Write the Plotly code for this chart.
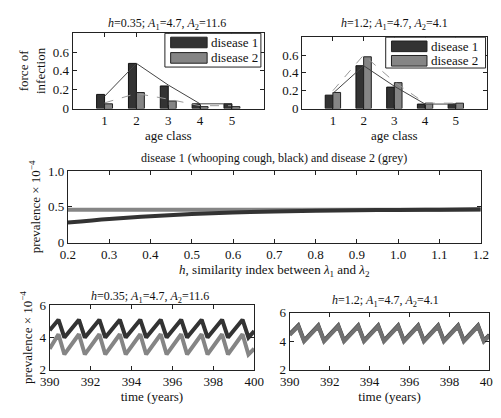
import plotly.graph_objects as go

W, H = 501, 418
FONT = "Liberation Serif, Times New Roman, serif"
DARK = "#333333"
GREY = "#858585"

# ---------------- data ----------------
age_class = [1, 2, 3, 4, 5]
# h = 0.35 panel
foi1_a = [0.15, 0.48, 0.24, 0.05, 0.05]
foi2_a = [0.05, 0.17, 0.08, 0.02, 0.02]
curve1_a = [0.13, 0.48, 0.25, 0.05, 0.05]
curve2_a = [0.06, 0.16, 0.10, 0.03, 0.03]
# h = 1.2 panel
foi1_b = [0.15, 0.48, 0.24, 0.05, 0.05]
foi2_b = [0.18, 0.58, 0.29, 0.06, 0.06]
curve1_b = [0.17, 0.48, 0.25, 0.05, 0.05]
curve2_b = [0.20, 0.60, 0.30, 0.06, 0.06]

h_vals = [0.2, 0.3, 0.4, 0.5, 0.6, 0.7, 0.8, 0.9, 1.0, 1.1, 1.2]
prev1_h = [0.28, 0.33, 0.37, 0.40, 0.42, 0.435, 0.445, 0.452, 0.457, 0.461, 0.465]
prev2_h = [0.46, 0.46, 0.46, 0.46, 0.46, 0.46, 0.46, 0.46, 0.46, 0.46, 0.46]

t_vals = [390.0, 390.43, 390.72, 391.43, 391.72, 392.43, 392.72, 393.43, 393.72,
          394.43, 394.72, 395.43, 395.72, 396.43, 396.72, 397.43, 397.72,
          398.43, 398.72, 399.43, 399.72, 400.0]
ts1_a = [4.45, 5.1, 4.0, 5.1, 4.0, 5.1, 4.0, 5.1, 4.0, 5.1, 4.0,
         5.1, 4.0, 5.1, 4.0, 5.1, 4.0, 5.1, 4.0, 5.1, 4.0, 4.4]
ts2_a = [3.3, 4.2, 2.95, 4.2, 2.95, 4.2, 2.95, 4.2, 2.95, 4.2, 2.95,
         4.2, 2.95, 4.2, 2.95, 4.2, 2.95, 4.2, 2.95, 4.2, 2.95, 3.3]
ts1_b = [4.5, 5.12, 4.05, 5.12, 4.05, 5.12, 4.05, 5.12, 4.05, 5.12, 4.05,
         5.12, 4.05, 5.12, 4.05, 5.12, 4.05, 5.12, 4.05, 5.12, 4.05, 4.45]
ts2_b = [4.45, 5.06, 4.0, 5.06, 4.0, 5.06, 4.0, 5.06, 4.0, 5.06, 4.0,
         5.06, 4.0, 5.06, 4.0, 5.06, 4.0, 5.06, 4.0, 5.06, 4.0, 4.4]

legend_labels = ["disease 1", "disease 2"]

# ---------------- layout helpers ----------------
def xd(a, b):
    return [a / W, b / W]

def yd(top, bottom):
    return [1 - bottom / H, 1 - top / H]

def px(x):
    return x / W

def py(y):
    return 1 - y / H

fig = go.Figure()

# top-left bars
fig.add_trace(go.Bar(x=age_class, y=foi1_a, marker=dict(color=DARK, line=dict(color="#111", width=1)),
                     xaxis="x", yaxis="y", showlegend=False))
fig.add_trace(go.Bar(x=age_class, y=foi2_a, marker=dict(color=GREY, line=dict(color="#222", width=1)),
                     xaxis="x", yaxis="y", showlegend=False))
fig.add_trace(go.Scatter(x=age_class, y=curve1_a, mode="lines", line=dict(color="#444", width=1),
                         xaxis="x", yaxis="y", showlegend=False))
fig.add_trace(go.Scatter(x=age_class, y=curve2_a, mode="lines", line=dict(color="#999", width=1, dash="dash"),
                         xaxis="x", yaxis="y", showlegend=False))
# top-right bars
fig.add_trace(go.Bar(x=age_class, y=foi1_b, marker=dict(color=DARK, line=dict(color="#111", width=1)),
                     xaxis="x2", yaxis="y2", showlegend=False))
fig.add_trace(go.Bar(x=age_class, y=foi2_b, marker=dict(color=GREY, line=dict(color="#222", width=1)),
                     xaxis="x2", yaxis="y2", showlegend=False))
fig.add_trace(go.Scatter(x=age_class, y=curve1_b, mode="lines", line=dict(color="#444", width=1),
                         xaxis="x2", yaxis="y2", showlegend=False))
fig.add_trace(go.Scatter(x=age_class, y=curve2_b, mode="lines", line=dict(color="#999", width=1, dash="dash"),
                         xaxis="x2", yaxis="y2", showlegend=False))
# middle
fig.add_trace(go.Scatter(x=h_vals, y=prev2_h, mode="lines", line=dict(color=GREY, width=4),
                         xaxis="x3", yaxis="y3", showlegend=False))
fig.add_trace(go.Scatter(x=h_vals, y=prev1_h, mode="lines", line=dict(color=DARK, width=4, shape="spline"),
                         xaxis="x3", yaxis="y3", showlegend=False))
# bottom-left
fig.add_trace(go.Scatter(x=t_vals, y=ts1_a, mode="lines", line=dict(color=DARK, width=4),
                         xaxis="x4", yaxis="y4", showlegend=False))
fig.add_trace(go.Scatter(x=t_vals, y=ts2_a, mode="lines", line=dict(color=GREY, width=4),
                         xaxis="x4", yaxis="y4", showlegend=False))
# bottom-right
fig.add_trace(go.Scatter(x=t_vals, y=ts1_b, mode="lines", line=dict(color="#3a3a3a", width=4),
                         xaxis="x5", yaxis="y5", showlegend=False))
fig.add_trace(go.Scatter(x=t_vals, y=ts2_b, mode="lines", line=dict(color="#707070", width=4),
                         xaxis="x5", yaxis="y5", showlegend=False))

axis_common = dict(showline=True, linecolor="#222", linewidth=1, mirror="allticks",
                   ticks="inside", ticklen=4, tickcolor="#222", showgrid=False, zeroline=False,
                   tickfont=dict(family=FONT, size=13, color="#111"))
title_font = dict(family=FONT, size=13, color="#111")

fig.update_layout(
    width=W, height=H, margin=dict(l=0, r=0, t=0, b=0),
    paper_bgcolor="white", plot_bgcolor="white",
    barmode="group", bargap=0.5, bargroupgap=0,
    font=dict(family=FONT, size=12, color="#111"),
    xaxis=dict(domain=xd(57, 256), anchor="y", range=[0, 6], tickvals=age_class,
               title=dict(text="age class", font=title_font, standoff=0), **axis_common),
    yaxis=dict(domain=yd(19, 97), anchor="x", range=[0, 0.8], tickvals=[0, 0.2, 0.4, 0.6],
               ticktext=["0", "0.2", "0.4", "0.6"],
               title=dict(text="force of<br>infection", font=title_font, standoff=4), **axis_common),
    xaxis2=dict(domain=xd(296, 488), anchor="y2", range=[0, 6], tickvals=age_class,
                title=dict(text="age class", font=title_font, standoff=0), **axis_common),
    yaxis2=dict(domain=yd(23, 97), anchor="x2", range=[0, 0.8], tickvals=[0, 0.2, 0.4, 0.6],
                ticktext=["0", "0.2", "0.4", "0.6"], **axis_common),
    xaxis3=dict(domain=xd(52, 482), anchor="y3", range=[0.2, 1.2],
                tickvals=[0.2, 0.3, 0.4, 0.5, 0.6, 0.7, 0.8, 0.9, 1.0, 1.1, 1.2], tickformat=".1f",
                title=dict(text="<i>h</i>, similarity index between <i>λ</i><sub>1</sub> and <i>λ</i><sub>2</sub>",
                           font=title_font, standoff=2), **axis_common),
    yaxis3=dict(domain=yd(162, 236), anchor="x3", range=[0, 1], tickvals=[0, 0.5, 1],
                ticktext=["0", "0.5", "1.0"],
                title=dict(text="prevalence × 10<sup>−4</sup>", font=title_font, standoff=4), **axis_common),
    xaxis4=dict(domain=xd(33, 246), anchor="y4", range=[390, 400], tickvals=[390, 392, 394, 396, 398, 400],
                title=dict(text="time (years)", font=title_font, standoff=0), **axis_common),
    yaxis4=dict(domain=yd(301, 368), anchor="x4", range=[2, 6], tickvals=[2, 4, 6],
                title=dict(text="prevalence × 10<sup>−4</sup>", font=title_font, standoff=4), **axis_common),
    xaxis5=dict(domain=xd(283, 491), anchor="y5", range=[390, 400], tickvals=[390, 392, 394, 396, 398, 400],
                title=dict(text="time (years)", font=title_font, standoff=0), **axis_common),
    yaxis5=dict(domain=yd(309, 368), anchor="x5", range=[2, 6], tickvals=[2, 4, 6], **axis_common),
)

# titles
titles = [
    ("<i>h</i>=0.35; <i>A</i><sub>1</sub>=4.7, <i>A</i><sub>2</sub>=11.6", 155, 9),
    ("<i>h</i>=1.2; <i>A</i><sub>1</sub>=4.7, <i>A</i><sub>2</sub>=4.1", 392, 9),
    ("disease 1 (whooping cough, black) and disease 2 (grey)", 267, 148),
    ("<i>h</i>=0.35; <i>A</i><sub>1</sub>=4.7, <i>A</i><sub>2</sub>=11.6", 137, 292),
    ("<i>h</i>=1.2; <i>A</i><sub>1</sub>=4.7, <i>A</i><sub>2</sub>=4.1", 383, 297),
]
for txt, x, y in titles:
    fig.add_annotation(text=txt, x=px(x), y=py(y), xref="paper", yref="paper",
                       showarrow=False, xanchor="center", yanchor="middle",
                       font=dict(family=FONT, size=12, color="#111"))

# manual legends (boxes with large swatches, as in the original)
def add_legend(x0, x1, y0, y1, sx0, sx1, rows):
    fig.add_shape(type="rect", xref="paper", yref="paper", x0=px(x0), x1=px(x1), y0=py(y1), y1=py(y0),
                  line=dict(color="#222", width=1), fillcolor="white", layer="above")
    for (ra, rb), col, lab in rows:
        fig.add_shape(type="rect", xref="paper", yref="paper", x0=px(sx0), x1=px(sx1), y0=py(rb), y1=py(ra),
                      line=dict(color="#222", width=1), fillcolor=col, layer="above")
        fig.add_annotation(text=lab, x=px(sx1 + 2), y=py((ra + rb) / 2), xref="paper", yref="paper",
                           showarrow=False, xanchor="left", yanchor="middle",
                           font=dict(family=FONT, size=13, color="#111"))

add_legend(153, 253, 19, 54, 159, 197, [((23, 34), DARK, legend_labels[0]), ((39, 50), GREY, legend_labels[1])])
add_legend(383, 487, 23, 55, 389, 426, [((27, 38), DARK, legend_labels[0]), ((42, 53), GREY, legend_labels[1])])

fig.write_html("out.html")
